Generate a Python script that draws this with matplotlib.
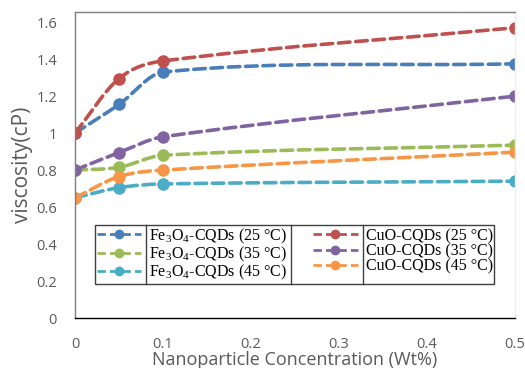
import numpy as np
import matplotlib
matplotlib.use("Agg")
from matplotlib import pyplot as plt
from matplotlib.path import Path
from matplotlib.patches import PathPatch
from matplotlib.lines import Line2D

plt.rcParams['mathtext.fontset'] = 'custom'
plt.rcParams['mathtext.rm'] = 'Liberation Serif'
plt.rcParams['mathtext.it'] = 'Liberation Serif'

# concentration (Wt%)
conc = [0, 0.05, 0.1, 0.5]

# viscosity (cP)
fe_25 = [1.00, 1.155, 1.330, 1.375]
fe_35 = [0.80, 0.815, 0.880, 0.935]
fe_45 = [0.65, 0.705, 0.725, 0.740]
cuo_25 = [1.00, 1.295, 1.390, 1.570]
cuo_35 = [0.80, 0.895, 0.980, 1.200]
cuo_45 = [0.65, 0.765, 0.800, 0.897]

labels = [
    "Fe$_3$O$_4$-CQDs (25 °C)", "Fe$_3$O$_4$-CQDs (35 °C)", "Fe$_3$O$_4$-CQDs (45 °C)",
    "CuO-CQDs (25 °C)", "CuO-CQDs (35 °C)", "CuO-CQDs (45 °C)",
]
series = [fe_25, fe_35, fe_45, cuo_25, cuo_35, cuo_45]
colors = ["#4a7ebb", "#9bbb59", "#4bacc6", "#c0504d", "#8064a2", "#f79646"]

xticks = [0, 0.1, 0.2, 0.3, 0.4, 0.5]
xtick_labels = ["0", "0.1", "0.2", "0.3", "0.4", "0.5"]
yticks = [0, 0.2, 0.4, 0.6, 0.8, 1.0, 1.2, 1.4, 1.6]
ytick_labels = ["0", "0.2", "0.4", "0.6", "0.8", "1", "1.2", "1.4", "1.6"]


def smooth_path(xs, ys):
    # smoothed line like the spreadsheet one: cubic bezier through each point,
    # tangents from neighbours, handles kept inside each x interval
    xs = np.asarray(xs, float)
    ys = np.asarray(ys, float)
    n = len(xs)
    m = np.zeros(n)
    for i in range(n):
        a = max(i - 1, 0)
        b = min(i + 1, n - 1)
        m[i] = (ys[b] - ys[a]) / (xs[b] - xs[a])
    verts = [(xs[0], ys[0])]
    codes = [Path.MOVETO]
    for i in range(n - 1):
        h = xs[i + 1] - xs[i]
        verts += [(xs[i] + h / 3, ys[i] + m[i] * h / 3),
                  (xs[i + 1] - h / 3, ys[i + 1] - m[i + 1] * h / 3),
                  (xs[i + 1], ys[i + 1])]
        codes += [Path.CURVE4] * 3
    return Path(verts, codes)


fig = plt.figure(figsize=(5.25, 3.68), dpi=100)
ax = fig.add_axes([75 / 525, 1 - 318 / 368, 440 / 525, 306 / 368])

handles = []
for ys, col, lab in zip(series, colors, labels):
    patch = PathPatch(smooth_path(conc, ys), fill=False, edgecolor=col,
                      linewidth=2.6, linestyle=(0, (3.2, 1.6)), capstyle="round")
    ax.add_patch(patch)
    ax.plot(conc, ys, linestyle="none", marker="o", markersize=8, color=col)
    handles.append(Line2D([], [], color=col, linewidth=2.0, linestyle=(0, (3.0, 1.5)),
                          marker="o", markersize=6, label=lab))

ax.set_xlim(0, 0.5)
ax.set_ylim(0, 1.655)
ax.set_xticks(xticks)
ax.set_xticklabels(xtick_labels)
ax.set_yticks(yticks)
ax.set_yticklabels(ytick_labels)
ax.tick_params(length=0, labelsize=10.5, labelcolor="#595959")
ax.tick_params(axis="x", pad=14)
ax.tick_params(axis="y", pad=13)
for t in ax.get_xticklabels() + ax.get_yticklabels():
    t.set_family("Open Sans")

ax.set_xlabel("Nanoparticle Concentration (Wt%)", fontsize=13, color="#595959",
              family="Open Sans", labelpad=-1)
ax.set_ylabel("viscosity(cP)", fontsize=15, color="#595959", family="Open Sans", labelpad=2)

ax.spines["left"].set_color("#7f7f7f")
ax.spines["top"].set_color("#7f7f7f")
ax.spines["right"].set_color("#eeeeee")
ax.spines["bottom"].set_color("#000000")
for s in ax.spines.values():
    s.set_linewidth(1.0)

leg = ax.legend(handles=handles, ncol=2, loc="lower left",
                bbox_to_anchor=(20 / 440, (318 - 284) / 306),
                prop={"family": "Liberation Serif", "size": 11.5},
                frameon=True, fancybox=False, edgecolor="#404040", framealpha=1,
                handlelength=2.8, handletextpad=0.5, columnspacing=1.6,
                labelspacing=-0.05, borderpad=0.1, borderaxespad=0)
leg.get_frame().set_linewidth(1.0)

# separators between handles and labels, like a table
fig.canvas.draw()
renderer = fig.canvas.get_renderer()
texts = leg.get_texts()
frame_bb = leg.get_frame().get_window_extent(renderer)
inv = ax.transAxes.inverted()
col1 = texts[:3]
col2 = texts[3:]
x_sep = [
    min(t.get_window_extent(renderer).x0 for t in col1) - 3,
    max(t.get_window_extent(renderer).x1 for t in col1) + 4,
    min(t.get_window_extent(renderer).x0 for t in col2) - 3,
]
y0 = inv.transform((0, frame_bb.y0))[1]
y1 = inv.transform((0, frame_bb.y1))[1]
for xs in x_sep:
    xa = inv.transform((xs, 0))[0]
    ax.plot([xa, xa], [y0, y1], color="#404040", linewidth=1.0,
            transform=ax.transAxes, clip_on=False, zorder=10)

fig.savefig("out.png", dpi=100)
